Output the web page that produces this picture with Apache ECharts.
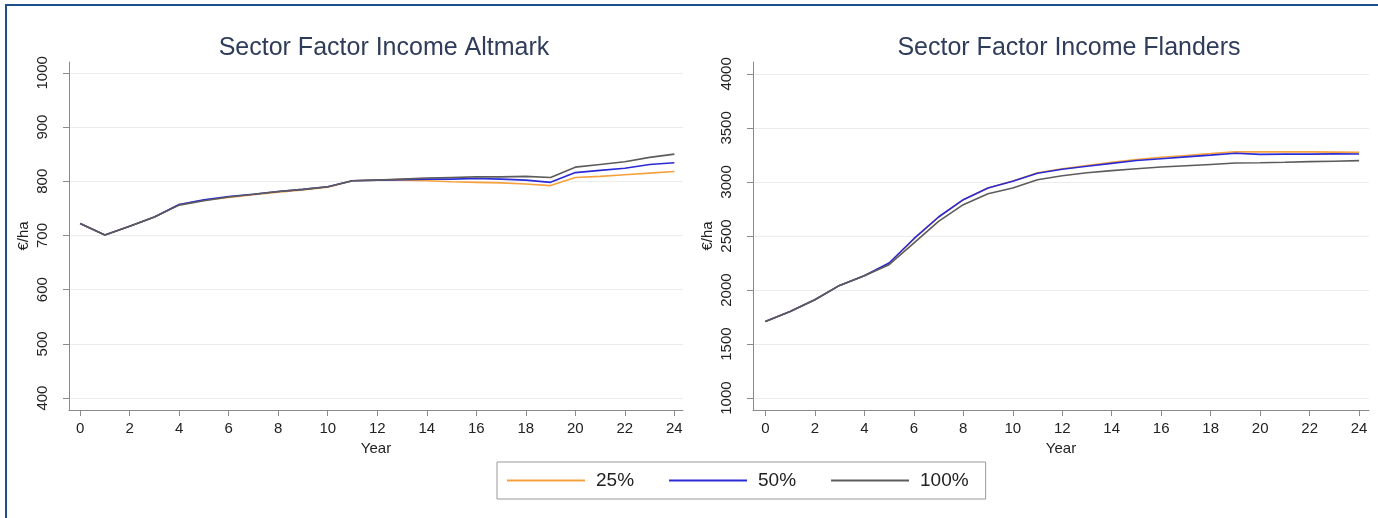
<!DOCTYPE html>
<html><head><meta charset="utf-8">
<script src="https://cdn.jsdelivr.net/npm/echarts@6/dist/echarts.min.js"></script>
<style>
html,body{margin:0;padding:0;background:#fff;}
#bl{position:absolute;left:5px;top:4px;width:2px;height:514px;background:#1d4f8c;}
#bt{position:absolute;left:5px;top:4px;width:1373px;height:2px;background:#1d4f8c;}
#c{position:absolute;left:0;top:0;width:1378px;height:518px;}
</style></head>
<body>
<div id="c"></div>
<div id="bl"></div><div id="bt"></div>
<script>
const years = [0,1,2,3,4,5,6,7,8,9,10,11,12,13,14,15,16,17,18,19,20,21,22,23,24];
const seriesNames = ['25%','50%','100%'];
const altmark25  = [722,701,717,734,757,765,770,775,780,784,789,801,802,802,801,799,798,797,795,792,807,809,812,815,818];
const altmark50  = [722,701,717,734,757,766,772,776,781,785,790,801,802,803,804,804,805,804,802,798,816,820,824,831,834];
const altmark100 = [722,701,717,734,756,764,771,776,781,785,790,801,802,804,806,807,808,808,809,807,826,831,836,844,850];
const flanders25  = [1709,1802,1910,2043,2132,2245,2470,2675,2835,2945,3008,3085,3122,3152,3182,3208,3228,3245,3262,3280,3278,3278,3278,3276,3274];
const flanders50  = [1709,1802,1910,2043,2132,2250,2475,2676,2836,2944,3006,3080,3117,3145,3172,3198,3215,3232,3248,3265,3255,3258,3258,3260,3259];
const flanders100 = [1709,1802,1910,2043,2132,2234,2435,2635,2790,2891,2944,3021,3058,3085,3105,3122,3138,3150,3162,3175,3178,3182,3188,3192,3197];
const xTicks = [0,2,4,6,8,10,12,14,16,18,20,22,24];
const altTicks = [400,500,600,700,800,900,1000];
const flaTicks = [1000,1500,2000,2500,3000,3500,4000];
const titles = ['Sector Factor Income Altmark','Sector Factor Income Flanders'];
const colors = ['#F5A23E','#2A2AD6','#5C5C5C'];

const FONT = '"Liberation Sans",Arial,sans-serif';
const axisGray = '#8a8a8a';

function xAx(gi, min, max){
  return {type:'value', gridIndex:gi, min:min, max:max,
    name:'Year', nameLocation:'middle', nameGap:30,
    nameTextStyle:{fontFamily:FONT, fontSize:15, color:'#222'},
    axisLine:{show:true, onZero:false, lineStyle:{color:axisGray, width:1}},
    axisTick:{show:true, length:6, customValues:xTicks, lineStyle:{color:axisGray}},
    axisLabel:{customValues:xTicks, fontFamily:FONT, fontSize:15, color:'#222', margin:11},
    splitLine:{show:false}};
}
function yAx(gi, min, max, ticks){
  return {type:'value', gridIndex:gi, min:min, max:max,
    name:'€/ha', nameLocation:'middle', nameGap:38, nameRotate:90,
    nameTextStyle:{fontFamily:FONT, fontSize:15, color:'#222'},
    axisLine:{show:true, onZero:false, lineStyle:{color:axisGray, width:1}},
    axisTick:{show:true, length:6, customValues:ticks, lineStyle:{color:axisGray}},
    axisLabel:{customValues:ticks, rotate:90, fontFamily:FONT, fontSize:15, color:'#222', margin:19,
      formatter: v => String(v)},
    splitLine:{show:true, lineStyle:{color:'#ececec', width:1}}};
}
function ser(name, data, xi, ci){
  return {name:name, type:'line', xAxisIndex:xi, yAxisIndex:xi,
    data: years.map((y,i)=>[y,data[i]]), showSymbol:false, symbol:'none',
    lineStyle:{color:colors[ci], width:1.6}, itemStyle:{color:colors[ci]}, animation:false};
}

const chart = echarts.init(document.getElementById('c'), null, {renderer:'canvas'});
chart.setOption({
  backgroundColor:'#fff',
  animation:false,
  title:[
    {text:titles[0], left:379, top:31, textAlign:'center', textStyle:{fontFamily:FONT, fontWeight:'normal', fontSize:25, color:'#2f3c5a'}},
    {text:titles[1], left:1064, top:31, textAlign:'center', textStyle:{fontFamily:FONT, fontWeight:'normal', fontSize:25, color:'#2f3c5a'}}
  ],
  grid:[
    {left:69, top:62, width:614, height:348},
    {left:753, top:62, width:616, height:348}
  ],
  xAxis:[xAx(0,-0.45,24.35), xAx(1,-0.5,24.4)],
  yAxis:[yAx(0,378,1020,altTicks), yAx(1,890,4110,flaTicks)],
  legend:{
    data:seriesNames, left:497, top:462, orient:'horizontal',
    icon:'rect', itemWidth:78, itemHeight:2, itemGap:35,
    padding:[9,17,9,10], borderColor:'#999', borderWidth:1,
    textStyle:{fontFamily:FONT, fontSize:19, color:'#222', padding:[0,0,0,6]}
  },
  series:[
    ser(seriesNames[0], altmark25, 0, 0),
    ser(seriesNames[1], altmark50, 0, 1),
    ser(seriesNames[2], altmark100, 0, 2),
    ser(seriesNames[0], flanders25, 1, 0),
    ser(seriesNames[1], flanders50, 1, 1),
    ser(seriesNames[2], flanders100, 1, 2)
  ]
});
</script>
</body></html>
